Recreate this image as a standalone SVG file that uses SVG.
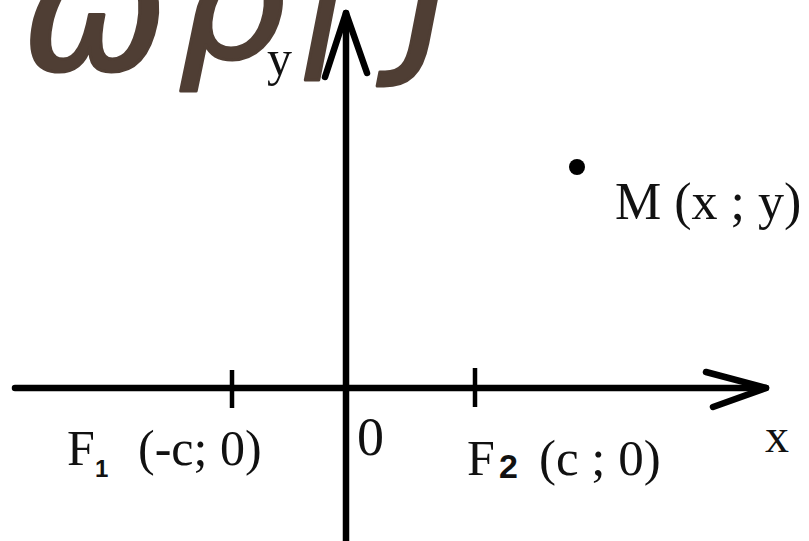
<svg xmlns="http://www.w3.org/2000/svg" width="809" height="541" viewBox="0 0 809 541">
<style>
.t{font-family:"Liberation Serif","Times New Roman",serif;fill:#111}
.sub{font-family:"Liberation Sans",Arial,sans-serif;font-weight:bold;fill:#111}
.ax{stroke:#000;stroke-width:6.5;fill:none;stroke-linecap:round;stroke-linejoin:round}
.tk{stroke:#000;stroke-width:4.5}
.deco{font-family:"DejaVu Sans",sans-serif;font-style:italic;fill:#4f3e34;stroke:#4f3e34;stroke-width:3;stroke-linejoin:round}
</style>
<rect width="809" height="541" fill="#fff"/>
<g id="title">
<text class="deco" x="22" y="70" font-size="170" textLength="146" lengthAdjust="spacingAndGlyphs">ω</text>
<text class="deco" x="178" y="58" font-size="160" textLength="108" lengthAdjust="spacingAndGlyphs">ρ</text>
<text class="deco" x="276" y="22" font-size="90">'</text>
<text class="deco" x="300" y="80" font-size="150">ı</text>
<text class="deco" x="405" y="52" font-size="170">J</text>
</g>
<g id="connectors">
<line class="ax" x1="15" y1="388" x2="766" y2="388"/>
<polyline class="ax" points="706,372 766,388 713,407"/>
<line class="ax" x1="346" y1="13" x2="346" y2="541"/>
<polyline class="ax" points="325,77 346,13 367,73"/>
<line class="tk" x1="232" y1="370" x2="232" y2="408"/>
<line class="tk" x1="475" y1="368" x2="475" y2="407"/>
</g>
<g id="point-M">
<circle cx="577" cy="167" r="8" fill="#000"/>
<text class="t" x="615" y="219" font-size="52">M (x ; y)</text>
</g>
<g id="label-y"><text class="t" x="267" y="75" font-size="50">y</text></g>
<g id="label-x"><text class="t" x="765" y="452" font-size="48">x</text></g>
<g id="label-0"><text class="t" x="357" y="455" font-size="54">0</text></g>
<g id="F1">
<text class="t" x="67" y="465" font-size="50">F</text>
<text class="sub" x="95" y="477" font-size="24">1</text>
<text class="t" x="138" y="465" font-size="50">(-c; 0)</text>
</g>
<g id="F2">
<text class="t" x="467" y="475" font-size="50">F</text>
<text class="sub" x="499" y="478" font-size="34">2</text>
<text class="t" x="539" y="475" font-size="51">(c ; 0)</text>
</g>
</svg>
